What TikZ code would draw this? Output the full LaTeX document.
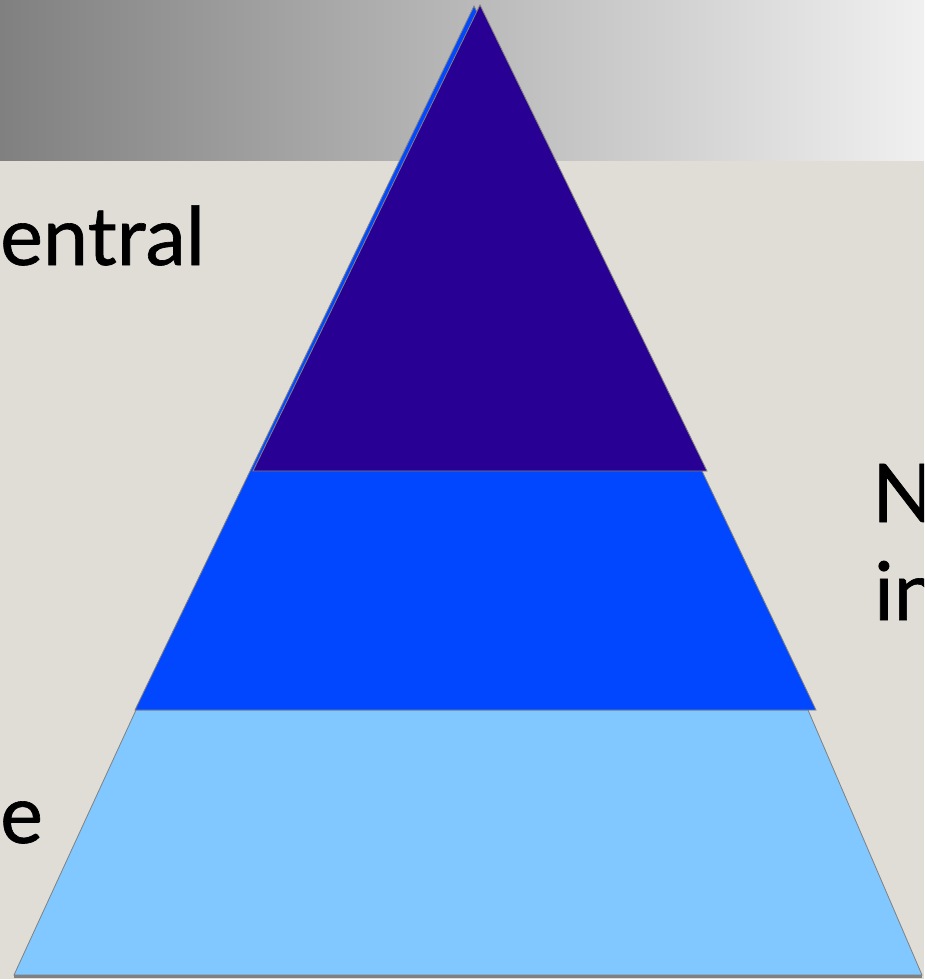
\documentclass[tikz,border=0pt]{standalone}
\usepackage{fontspec}
\setmainfont{Lato}[FakeBold=0.8]
\definecolor{bg}{HTML}{E0DDD6}
\definecolor{gdark}{HTML}{808080}
\definecolor{glight}{HTML}{F0F0F0}
\definecolor{tier1}{HTML}{290094}
\definecolor{tier2}{HTML}{0047FF}
\definecolor{tier3}{HTML}{80C8FF}
\definecolor{edge}{HTML}{808080}
\tikzset{
  tier/.style={draw=edge, line width=0.8pt, line join=miter},
  label/.style={font=\fontsize{81}{96}\selectfont, text=black, inner sep=0pt}
}
\begin{document}
\begin{tikzpicture}[x=1pt,y=-1pt]
\useasboundingbox (0,0) rectangle (924,979);
\clip (0,0) rectangle (924,979);
\fill[bg] (0,0) rectangle (924,979);
\shade[left color=gdark, right color=glight] (0,0) rectangle (924,160);
% bottom tier
\filldraw[tier, fill=tier3] (136,710) -- (14,975) -- (922,975) -- (808,710) -- cycle;
\draw[edge, line width=2.5pt] (14,976.5) -- (922,976.5);
% middle tier (extends as a thin sliver up to apex)
\filldraw[tier, fill=tier2] (474,6) -- (135,710) -- (816,710) -- (702,471) -- cycle;
% top tier
\filldraw[tier, fill=tier1] (480,5) -- (253,471) -- (707,471) -- cycle;
% texts
\node[label, anchor=base west] (t1) at (0,265) {entral};
\node[label, anchor=base west] (t2) at (0,843) {e};
\node[label, anchor=base west] (t3) at (872,522) {N};
\node[label, anchor=base west] (t4) at (874,620) {in};
\end{tikzpicture}
\end{document}
